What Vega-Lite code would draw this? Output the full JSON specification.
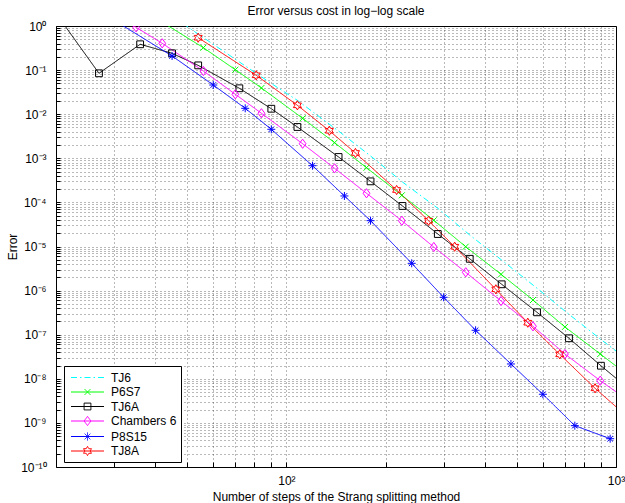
{
  "$schema": "https://vega.github.io/schema/vega-lite/v6.json",
  "width": 560,
  "height": 441,
  "autosize": {"type": "none"},
  "padding": {"left": 56, "top": 26, "right": 9, "bottom": 36},
  "background": "white",
  "title": {"text": "Error versus cost in log−log scale", "fontSize": 12, "font": "Liberation Sans", "fontWeight": "normal", "color": "black", "baseline": "alphabetic", "offset": 10, "dy": 17, "anchor": "middle", "frame": "group"},
  "config": {"view": {"stroke": "black", "strokeWidth": 1}, "font": "Liberation Sans"},
  "data": {"values": [
    {"m": "TJ6", "x": 45, "y": 1.69}, {"m": "TJ6", "x": 54, "y": 0.655}, {"m": "TJ6", "x": 72, "y": 0.153}, {"m": "TJ6", "x": 90, "y": 0.0497}, {"m": "TJ6", "x": 108, "y": 0.0206}, {"m": "TJ6", "x": 144, "y": 0.00414}, {"m": "TJ6", "x": 180, "y": 0.00113}, {"m": "TJ6", "x": 225, "y": 0.00029}, {"m": "TJ6", "x": 288, "y": 7.35e-5}, {"m": "TJ6", "x": 360, "y": 1.82e-5}, {"m": "TJ6", "x": 450, "y": 4.92e-6}, {"m": "TJ6", "x": 576, "y": 1.13e-6}, {"m": "TJ6", "x": 720, "y": 2.9e-7}, {"m": "TJ6", "x": 900, "y": 7.8e-8}, {"m": "TJ6", "x": 1152, "y": 1.9e-8},
    {"m": "P6S7", "x": 42, "y": 1.22}, {"m": "P6S7", "x": 56, "y": 0.322}, {"m": "P6S7", "x": 70, "y": 0.102}, {"m": "P6S7", "x": 84, "y": 0.0393}, {"m": "P6S7", "x": 112, "y": 0.00807}, {"m": "P6S7", "x": 140, "y": 0.00226}, {"m": "P6S7", "x": 175, "y": 0.000612}, {"m": "P6S7", "x": 224, "y": 0.000145}, {"m": "P6S7", "x": 280, "y": 3.93e-5}, {"m": "P6S7", "x": 350, "y": 9.9e-6}, {"m": "P6S7", "x": 448, "y": 2.34e-6}, {"m": "P6S7", "x": 560, "y": 6.12e-7}, {"m": "P6S7", "x": 700, "y": 1.5e-7}, {"m": "P6S7", "x": 896, "y": 3.65e-8}, {"m": "P6S7", "x": 1120, "y": 1.02e-8},
    {"m": "TJ6A", "x": 18, "y": 5.8}, {"m": "TJ6A", "x": 27, "y": 0.0846}, {"m": "TJ6A", "x": 36, "y": 0.385}, {"m": "TJ6A", "x": 45, "y": 0.24}, {"m": "TJ6A", "x": 54, "y": 0.128}, {"m": "TJ6A", "x": 72, "y": 0.0387}, {"m": "TJ6A", "x": 90, "y": 0.0133}, {"m": "TJ6A", "x": 108, "y": 0.00513}, {"m": "TJ6A", "x": 144, "y": 0.00107}, {"m": "TJ6A", "x": 180, "y": 0.0003}, {"m": "TJ6A", "x": 225, "y": 8.3e-5}, {"m": "TJ6A", "x": 288, "y": 1.92e-5}, {"m": "TJ6A", "x": 360, "y": 5.26e-6}, {"m": "TJ6A", "x": 450, "y": 1.39e-6}, {"m": "TJ6A", "x": 576, "y": 3.22e-7}, {"m": "TJ6A", "x": 720, "y": 8.3e-8}, {"m": "TJ6A", "x": 900, "y": 1.98e-8}, {"m": "TJ6A", "x": 1152, "y": 4.3e-9},
    {"m": "Chambers 6", "x": 28, "y": 2.6}, {"m": "Chambers 6", "x": 35, "y": 0.934}, {"m": "Chambers 6", "x": 42, "y": 0.405}, {"m": "Chambers 6", "x": 56, "y": 0.0954}, {"m": "Chambers 6", "x": 70, "y": 0.0283}, {"m": "Chambers 6", "x": 84, "y": 0.0105}, {"m": "Chambers 6", "x": 112, "y": 0.00214}, {"m": "Chambers 6", "x": 140, "y": 0.000593}, {"m": "Chambers 6", "x": 175, "y": 0.000161}, {"m": "Chambers 6", "x": 224, "y": 3.84e-5}, {"m": "Chambers 6", "x": 280, "y": 9.74e-6}, {"m": "Chambers 6", "x": 350, "y": 2.6e-6}, {"m": "Chambers 6", "x": 448, "y": 5.81e-7}, {"m": "Chambers 6", "x": 560, "y": 1.55e-7}, {"m": "Chambers 6", "x": 700, "y": 3.65e-8}, {"m": "Chambers 6", "x": 896, "y": 9.06e-9}, {"m": "Chambers 6", "x": 1120, "y": 2.8e-9},
    {"m": "P8S15", "x": 30, "y": 1.35}, {"m": "P8S15", "x": 45, "y": 0.209}, {"m": "P8S15", "x": 60, "y": 0.0459}, {"m": "P8S15", "x": 75, "y": 0.0136}, {"m": "P8S15", "x": 90, "y": 0.00455}, {"m": "P8S15", "x": 120, "y": 0.000679}, {"m": "P8S15", "x": 150, "y": 0.00014}, {"m": "P8S15", "x": 180, "y": 3.85e-5}, {"m": "P8S15", "x": 240, "y": 4.16e-6}, {"m": "P8S15", "x": 300, "y": 7.05e-7}, {"m": "P8S15", "x": 375, "y": 1.26e-7}, {"m": "P8S15", "x": 480, "y": 2.17e-8}, {"m": "P8S15", "x": 600, "y": 4.46e-9}, {"m": "P8S15", "x": 750, "y": 8.65e-10}, {"m": "P8S15", "x": 960, "y": 4.38e-10},
    {"m": "TJ8A", "x": 54, "y": 0.543}, {"m": "TJ8A", "x": 81, "y": 0.0762}, {"m": "TJ8A", "x": 108, "y": 0.0159}, {"m": "TJ8A", "x": 135, "y": 0.00422}, {"m": "TJ8A", "x": 162, "y": 0.00132}, {"m": "TJ8A", "x": 216, "y": 0.000191}, {"m": "TJ8A", "x": 270, "y": 3.84e-5}, {"m": "TJ8A", "x": 324, "y": 9.89e-6}, {"m": "TJ8A", "x": 432, "y": 1.07e-6}, {"m": "TJ8A", "x": 540, "y": 1.87e-7}, {"m": "TJ8A", "x": 675, "y": 3.59e-8}, {"m": "TJ8A", "x": 864, "y": 6.09e-9}, {"m": "TJ8A", "x": 1080, "y": 1.4e-9}
  ]},
  "encoding": {
    "x": {"field": "x", "type": "quantitative", "scale": {"type": "log", "domain": [20, 1000], "nice": false},
      "axis": {"values": [30, 40, 50, 60, 70, 80, 90, 100, 200, 300, 400, 500, 600, 700, 800, 900, 1000],
        "grid": true, "gridDash": [1, 3], "gridColor": "#000", "gridOpacity": 0.55, "gridWidth": 1,
        "ticks": true, "tickSize": -5, "tickColor": "black", "tickWidth": 1, "domain": false, "labelOverlap": false, "labelFlush": false,
        "labelExpr": "abs(log(datum.value)/LN10 - round(log(datum.value)/LN10)) > 0.01 ? '' : '10' + (round(log(datum.value)/LN10) < 0 ? '⁻' : '') + (abs(round(log(datum.value)/LN10)) >= 10 ? '¹⁰' : ['⁰','¹','²','³','⁴','⁵','⁶','⁷','⁸','⁹'][abs(round(log(datum.value)/LN10))])",
        "labelFont": "Liberation Sans", "labelFontSize": 12, "labelColor": "black", "labelPadding": 13,
        "title": "Number of steps of the Strang splitting method", "titleFont": "Liberation Sans", "titleFontSize": 12, "titleFontWeight": "normal", "titleColor": "black", "titleBaseline": "alphabetic", "titleY": 33}},
    "y": {"field": "y", "type": "quantitative", "scale": {"type": "log", "domain": [1e-10, 1], "nice": false},
      "axis": {"values": [1e-10, 2e-10, 3e-10, 4e-10, 5e-10, 6e-10, 7e-10, 8e-10, 9e-10, 1e-9, 2e-9, 3e-9, 4e-9, 5e-9, 6e-9, 7e-9, 8e-9, 9e-9, 1e-8, 2e-8, 3e-8, 4e-8, 5e-8, 6e-8, 7e-8, 8e-8, 9e-8, 1e-7, 2e-7, 3e-7, 4e-7, 5e-7, 6e-7, 7e-7, 8e-7, 9e-7, 1e-6, 2e-6, 3e-6, 4e-6, 5e-6, 6e-6, 7e-6, 8e-6, 9e-6, 1e-5, 2e-5, 3e-5, 4e-5, 5e-5, 6e-5, 7e-5, 8e-5, 9e-5, 0.0001, 0.0002, 0.0003, 0.0004, 0.0005, 0.0006, 0.0007, 0.0008, 0.0009, 0.001, 0.002, 0.003, 0.004, 0.005, 0.006, 0.007, 0.008, 0.009, 0.01, 0.02, 0.03, 0.04, 0.05, 0.06, 0.07, 0.08, 0.09, 0.1, 0.2, 0.3, 0.4, 0.5, 0.6, 0.7, 0.8, 0.9, 1],
        "grid": true, "gridDash": [1, 3], "gridColor": "#000", "gridOpacity": 0.55, "gridWidth": 1,
        "ticks": true, "tickSize": -4, "tickColor": "black", "tickWidth": 1, "domain": false, "labelOverlap": false, "labelFlush": false,
        "labelExpr": "abs(log(datum.value)/LN10 - round(log(datum.value)/LN10)) > 0.01 ? '' : '10' + (round(log(datum.value)/LN10) < 0 ? '⁻' : '') + (abs(round(log(datum.value)/LN10)) >= 10 ? '¹⁰' : ['⁰','¹','²','³','⁴','⁵','⁶','⁷','⁸','⁹'][abs(round(log(datum.value)/LN10))])",
        "labelFont": "Liberation Sans", "labelFontSize": 12, "labelColor": "black", "labelPadding": 14,
        "title": "Error", "titleFont": "Liberation Sans", "titleFontSize": 12, "titleFontWeight": "normal", "titleColor": "black", "titleBaseline": "alphabetic", "titleX": -40}}
  },
  "layer": [
    {
      "mark": {"type": "line", "strokeWidth": 1, "clip": true},
      "encoding": {
        "color": {"field": "m", "type": "nominal", "legend": null, "scale": {"domain": ["TJ6", "P6S7", "TJ6A", "Chambers 6", "P8S15", "TJ8A"], "range": ["#00ffff", "#00ff00", "#000000", "#ff00ff", "#0000ff", "#ff0000"]}},
        "strokeDash": {"field": "m", "type": "nominal", "legend": null, "scale": {"domain": ["TJ6", "P6S7", "TJ6A", "Chambers 6", "P8S15", "TJ8A"], "range": [[6, 3, 1.5, 3], [1, 0], [1, 0], [1, 0], [1, 0], [1, 0]]}},
        "order": {"field": "x", "type": "quantitative"}
      }
    },
    {
      "transform": [{"filter": "datum.m != 'TJ6' && datum.x >= 20 && datum.x <= 1000 && datum.y <= 1"}],
      "mark": {"type": "point", "filled": false, "size": 64, "strokeWidth": 1, "opacity": 1, "clip": true},
      "encoding": {
        "color": {"field": "m", "type": "nominal", "legend": null, "scale": {"domain": ["TJ6", "P6S7", "TJ6A", "Chambers 6", "P8S15", "TJ8A"], "range": ["#00ffff", "#00ff00", "#000000", "#ff00ff", "#0000ff", "#ff0000"]}},
        "shape": {"field": "m", "type": "nominal", "legend": null, "scale": {"domain": ["P6S7", "TJ6A", "Chambers 6", "P8S15", "TJ8A"], "range": [
          "M-0.75,-0.75L0.75,0.75M-0.75,0.75L0.75,-0.75",
          "M-0.85,-0.85H0.85V0.85H-0.85Z",
          "M0,-1.15L0.85,0L0,1.15L-0.85,0Z",
          "M-1,0H1M0,-1V1M-0.7,-0.7L0.7,0.7M-0.7,0.7L0.7,-0.7",
          "M0,-1.15L0.332,-0.575L0.996,-0.575L0.664,0L0.996,0.575L0.332,0.575L0,1.15L-0.332,0.575L-0.996,0.575L-0.664,0L-0.996,-0.575L-0.332,-0.575Z"
        ]}}
      }
    },
    {
      "transform": [{"filter": "datum.x < 0"}],
      "mark": {"type": "point", "filled": false, "size": 196, "strokeWidth": 1, "opacity": 1},
      "encoding": {
        "color": {"field": "m", "type": "nominal",
          "scale": {"domain": ["TJ6", "P6S7", "TJ6A", "Chambers 6", "P8S15", "TJ8A"], "range": ["#00ffff", "#00ff00", "#000000", "#ff00ff", "#0000ff", "#ff0000"]},
          "legend": {"orient": "none", "legendX": 8, "legendY": 340, "title": null, "strokeColor": "black", "fillColor": "white", "padding": 4, "rowPadding": 0.5, "labelFont": "Liberation Sans", "labelFontSize": 12, "labelColor": "black", "labelOffset": 16, "symbolOffset": 12, "symbolSize": 196, "symbolStrokeWidth": 1}},
        "shape": {"field": "m", "type": "nominal",
          "scale": {"domain": ["TJ6", "P6S7", "TJ6A", "Chambers 6", "P8S15", "TJ8A"], "range": [
            "M-2.357,0H2.357",
            "M-2.357,0H2.357M-0.43,-0.43L0.43,0.43M-0.43,0.43L0.43,-0.43",
            "M-2.357,0H2.357M-0.486,-0.486H0.486V0.486H-0.486Z",
            "M-2.357,0H2.357M0,-0.657L0.486,0L0,0.657L-0.486,0Z",
            "M-2.357,0H2.357M0,-0.571V0.571M-0.4,-0.4L0.4,0.4M-0.4,0.4L0.4,-0.4",
            "M-2.357,0H2.357M0,-0.657L0.19,-0.329L0.569,-0.329L0.379,0L0.569,0.329L0.19,0.329L0,0.657L-0.19,0.329L-0.569,0.329L-0.379,0L-0.569,-0.329L-0.19,-0.329Z"
          ]},
          "legend": {"orient": "none", "legendX": 8, "legendY": 340, "title": null, "strokeColor": "black", "fillColor": "white", "padding": 4, "rowPadding": 0.5, "labelFont": "Liberation Sans", "labelFontSize": 12, "labelColor": "black", "labelOffset": 16, "symbolOffset": 12, "symbolSize": 196, "symbolStrokeWidth": 1}},
        "strokeDash": {"field": "m", "type": "nominal",
          "scale": {"domain": ["TJ6", "P6S7", "TJ6A", "Chambers 6", "P8S15", "TJ8A"], "range": [[6, 3, 1.5, 3], [1, 0], [1, 0], [1, 0], [1, 0], [1, 0]]},
          "legend": {"orient": "none", "legendX": 8, "legendY": 340, "title": null, "strokeColor": "black", "fillColor": "white", "padding": 4, "rowPadding": 0.5, "labelFont": "Liberation Sans", "labelFontSize": 12, "labelColor": "black", "labelOffset": 16, "symbolOffset": 12, "symbolSize": 196, "symbolStrokeWidth": 1}}
      }
    }
  ],
  "resolve": {"scale": {"color": "independent", "shape": "independent", "strokeDash": "independent"}}
}
